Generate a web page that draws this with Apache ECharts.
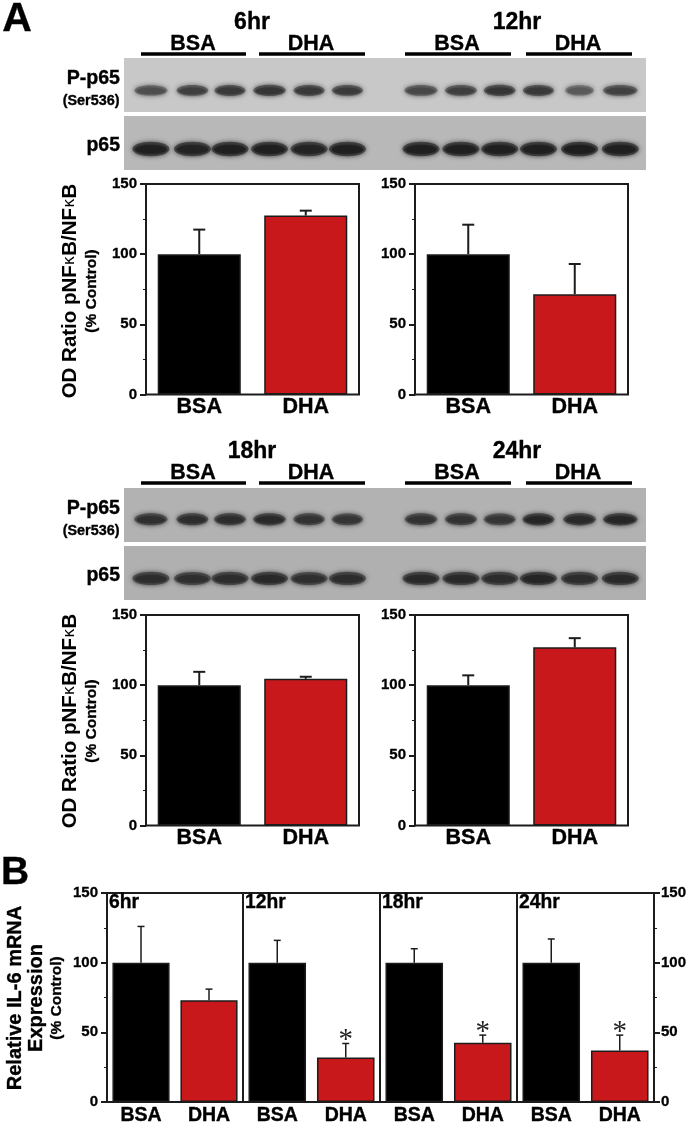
<!DOCTYPE html>
<html><head><meta charset="utf-8">
<style>html,body{margin:0;padding:0;background:#fff}#c{width:688px;height:1123px}</style>
<script src="https://cdn.jsdelivr.net/npm/echarts@6/dist/echarts.min.js"></script>
</head><body><div id="c"></div>
<script>
const treatments = ['BSA', 'DHA'];
const timeLabels = ['6hr', '12hr', '18hr', '24hr'];
const yTicks = [0, 50, 100, 150];

// Panel A: OD ratio (% control)
const odMean = [[100, 127.5], [100, 71.5], [100, 104.5], [100, 127]];
const odErrTop = [[117.5, 131], [121, 93], [109.5, 106], [107, 133.5]];

// Panel B: IL-6 mRNA (% control)
const il6Mean = [[100, 73], [100, 32], [100, 42.5], [100, 37]];
const il6ErrTop = [[126, 81], [116, 42], [110, 48], [117, 48]];
const il6Sig = [[false, false], [false, true], [false, true], [false, true]];

// Western blot lanes (lane position, band strength, band width)
const laneX = [0, 1.05, 2, 3, 4, 4.97, 6.83, 7.84, 8.82, 9.8, 10.84, 11.87];
const pP65TopStrength = [.66, .76, .8, .82, .8, .78, .7, .76, .82, .8, .58, .74];
const pP65TopWidth = [1, .96, .94, .98, .94, .94, 1, .96, .96, .94, .86, 1.04];
const p65TopStrength = [.96, .94, .96, .96, .94, .96, .96, .96, .96, .96, .98, .96];
const p65TopWidth = [1, 1, 1, 1, 1, 1, 1, 1, 1, 1, 1, 1];
const pP65BotStrength = [.86, .88, .88, .9, .84, .82, .84, .84, .82, .92, .9, .92];
const pP65BotWidth = [1, .96, .96, .98, .94, .94, .98, .96, .96, .96, .98, 1.04];
const p65BotStrength = [.88, .86, .88, .9, .86, .88, .9, .9, .88, .92, .88, .9];
const p65BotWidth = [1, 1, 1, 1, 1, 1, 1, 1, 1, 1, 1, 1];

const FONT = '"Liberation Sans", Arial, sans-serif';
const INK = '#1c1c1c';
const RED = '#c8181b';

const grid = [], xAxis = [], yAxis = [], series = [], graphic = [];

function blot(top, h, bg, strength, width, rx, ry, yPos) {
  const i = grid.length;
  grid.push({left: 124, width: 522, top, height: h, show: true, backgroundColor: bg, borderWidth: 0, outerBoundsMode: 'none'});
  xAxis.push({gridIndex: i, type: 'value', min: -0.68, max: 12.52, show: false});
  yAxis.push({gridIndex: i, type: 'value', min: 0, max: 1, show: false});
  series.push({
    type: 'custom', xAxisIndex: i, yAxisIndex: i, silent: true, clip: true,
    encode: {x: 0, y: 1},
    data: laneX.map((x, k) => [x, yPos, strength[k], width[k]]),
    renderItem(p, api) {
      const c = api.coord([api.value(0), api.value(1)]);
      const s = api.value(2), w = api.value(3);
      const g = Math.round(175 - s * 150);
      const col = `rgb(${g},${g},${g})`;
      const ryy = ry * (0.7 + s * 0.35);
      return {type: 'group', children: [
        {type: 'ellipse', shape: {cx: c[0], cy: c[1], rx: rx * w, ry: ryy},
         style: {fill: col, opacity: .6, shadowBlur: 5, shadowColor: col}},
        {type: 'ellipse', shape: {cx: c[0], cy: c[1] + .5, rx: rx * w * .86, ry: ryy * .6},
         style: {fill: col, opacity: .85, shadowBlur: 5, shadowColor: col}}
      ]};
    }
  });
}

function barPanel(cfg) {
  const i = grid.length;
  grid.push({left: cfg.left, width: cfg.width, top: cfg.top, height: cfg.height, show: true,
    backgroundColor: 'transparent', borderColor: INK, borderWidth: cfg.bw, outerBoundsMode: 'none'});
  xAxis.push({gridIndex: i, type: 'category', data: treatments,
    axisLine: {show: false}, axisTick: {show: false},
    axisLabel: {color: '#000', fontFamily: FONT, fontWeight: 'bold', fontSize: cfg.catSize, margin: cfg.catMargin, interval: 0,
      textBorderColor: '#000', textBorderWidth: .4}});
  yAxis.push({gridIndex: i, type: 'value', min: yTicks[0], max: yTicks[3], interval: 50,
    position: cfg.axisSide || 'left', show: !!cfg.axisSide,
    axisLine: {show: true, lineStyle: {color: INK, width: cfg.bw}},
    axisTick: {show: true, length: 6, lineStyle: {color: INK, width: 2}},
    minorTick: {show: true, splitNumber: 2, length: 3, lineStyle: {color: INK, width: 1}},
    splitLine: {show: false}, minorSplitLine: {show: false},
    axisLabel: {color: '#000', fontFamily: FONT, fontWeight: 'bold', fontSize: 15,
      margin: cfg.axisSide === 'right' ? 7 : 9, textBorderColor: '#000', textBorderWidth: .3}});
  series.push({
    type: 'bar', xAxisIndex: i, yAxisIndex: i, barWidth: cfg.barWidth, silent: true,
    data: cfg.mean.map((v, k) => ({value: v, itemStyle: {color: k ? RED : '#000', borderColor: INK, borderWidth: 1.5}}))
  });
  series.push({
    type: 'custom', xAxisIndex: i, yAxisIndex: i, silent: true, z: 5,
    encode: {x: 0, y: 1},
    data: cfg.err.map((v, k) => [k, v, cfg.mean[k], cfg.sig && cfg.sig[k] ? 1 : 0]),
    renderItem(p, api) {
      const t = api.coord([api.value(0), api.value(1)]);
      const b = api.coord([api.value(0), api.value(2)]);
      const ls = {stroke: INK, lineWidth: cfg.errW};
      const kids = [
        {type: 'line', shape: {x1: t[0], y1: t[1], x2: b[0], y2: b[1]}, style: ls},
        {type: 'line', shape: {x1: t[0] - cfg.cap, y1: t[1], x2: t[0] + cfg.cap, y2: t[1]}, style: ls}
      ];
      if (api.value(3)) kids.push({type: 'text', x: t[0], y: t[1] - 3,
        style: {text: '*', fill: '#222', font: 'normal 29px "Liberation Serif", serif', align: 'center', verticalAlign: 'middle'}});
      return {type: 'group', children: kids};
    }
  });
}

function txt(text, x, y, size, opts) {
  opts = opts || {};
  graphic.push({type: 'text', x, y, rotation: opts.rot ? Math.PI / 2 : 0, silent: true,
    style: {text, fill: '#000', stroke: '#000', lineWidth: .35, font: `bold ${size}px ${FONT}`,
      align: opts.align || 'center', verticalAlign: 'middle'}});
}
function rule(x1, x2, y) {
  graphic.push({type: 'rect', silent: true, shape: {x: x1, y: y - 1.75, width: x2 - x1, height: 3.5}, style: {fill: '#000'}});
}

// ---- Blots
blot(58, 54, '#c8c8c8', pP65TopStrength, pP65TopWidth, 16.5, 5.6, .40);
blot(116, 54, '#b8b8b8', p65TopStrength, p65TopWidth, 18.5, 7, .39);
blot(488, 54, '#b2b2b2', pP65BotStrength, pP65BotWidth, 16.5, 6, .42);
blot(546, 54, '#b0b0b0', p65BotStrength, p65BotWidth, 18.5, 6.5, .40);

// ---- Panel A bars
const aLeft = [146, 415, 146, 415], aTop = [184, 184, 615, 615];
for (let n = 0; n < 4; n++) {
  barPanel({left: aLeft[n], width: 213, top: aTop[n], height: 210.5, bw: 2, mean: odMean[n], err: odErrTop[n],
    barWidth: '78%', cap: 6, errW: 2, axisSide: 'left', catSize: 21.5, catMargin: 2});
}

// ---- Panel B bars
const bLeft = [107, 243, 380, 517];
for (let n = 0; n < 4; n++) {
  barPanel({left: bLeft[n], width: bLeft[n] === 517 ? 137 : bLeft[n + 1] - bLeft[n], top: 893, height: 209, bw: 2,
    mean: il6Mean[n], err: il6ErrTop[n], sig: il6Sig[n], barWidth: '84%', cap: 3.5, errW: 1.5,
    axisSide: n === 0 ? 'left' : (n === 3 ? 'right' : null), catSize: 19.5, catMargin: 3.5});
  txt(timeLabels[n], bLeft[n] + 2, 903, 19.3, {align: 'left'});
}

// ---- Blot headers
const headers = [[252, 23, 193, 311], [517, 23, 457, 578], [252, 452, 193, 311], [517, 452, 457, 578]];
headers.forEach((h, n) => {
  const ry = h[1] + 31;
  txt(timeLabels[n], h[0], h[1], 23);
  txt(treatments[0], h[2], h[1] + 21, 21.5);
  txt(treatments[1], h[3], h[1] + 21, 21.5);
  const a = n % 2 ? [405, 511, 526, 632] : [141, 246, 259, 365];
  rule(a[0], a[1], ry);
  rule(a[2], a[3], ry);
});

// ---- Blot row labels
[[79, 101, 146], [509, 531, 576]].forEach(r => {
  txt('P-p65', 120, r[0], 19.6, {align: 'right'});
  txt('(Ser536)', 119.5, r[1], 14.4, {align: 'right'});
  txt('p65', 120, r[2], 19.5, {align: 'right'});
});

// ---- Panel A y titles
const kRich = {k: {font: `normal 16px "DejaVu Sans", ${FONT}`, fill: '#000'}, b: {font: `bold 20.5px ${FONT}`, fill: '#000'}};
[291, 721].forEach(cy => {
  graphic.push({type: 'text', x: 70, y: cy, rotation: Math.PI / 2, silent: true,
    style: {text: '{b|OD Ratio pNF}{k|κ}{b|B/NF}{k|κ}{b|B}', rich: kRich, align: 'center', verticalAlign: 'middle',
      font: `bold 20.5px ${FONT}`, fill: '#000'}});
  txt('(% Control)', 92, cy, 15.5, {rot: true});
});

// ---- Panel B y titles
txt('Relative IL-6 mRNA', 15, 998, 20, {rot: true});
txt('Expression', 36, 998, 20, {rot: true});
txt('(% Control)', 57, 998, 15.5, {rot: true});

// ---- Panel letters
txt('A', 17, 20, 41);
txt('B', 15, 873, 39);

const chart = echarts.init(document.getElementById('c'), null, {renderer: 'canvas'});
chart.setOption({animation: false, backgroundColor: '#fff', tooltip: {show: false},
  grid, xAxis, yAxis, series, graphic: {elements: graphic}});
</script></body></html>
